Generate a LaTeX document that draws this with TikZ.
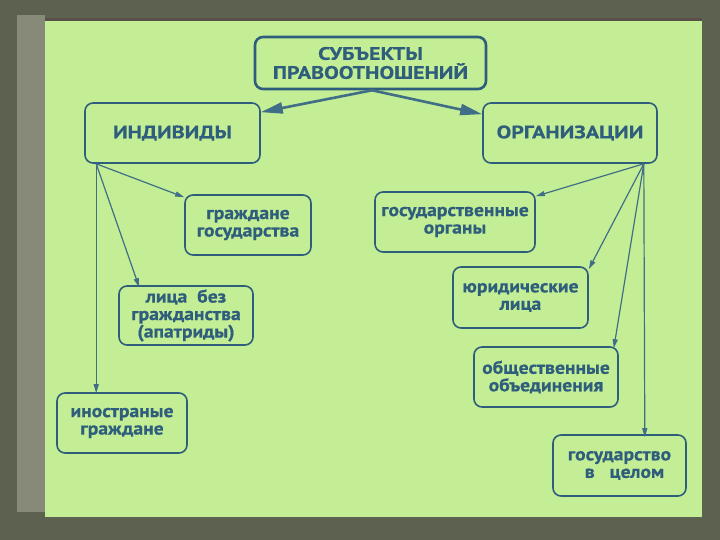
\documentclass[tikz,border=0pt]{standalone}
\usepackage{fontspec}
\setmainfont{PT Sans}
\newfontfamily\capfont{PT Sans}[FakeStretch=1.22, BoldFeatures={FakeBold=0.4}]
\newfontfamily\lowfont{PT Sans}[FakeStretch=1.09, BoldFeatures={FakeBold=0.6}]
\usetikzlibrary{arrows.meta}
\definecolor{frame}{HTML}{5C6150}
\definecolor{strip}{HTML}{878979}
\definecolor{edge}{HTML}{5A5048}
\definecolor{panel}{HTML}{C4EE96}
\definecolor{ink}{HTML}{2E5E7C}
\definecolor{wire}{HTML}{3F6E86}
\tikzset{
  box/.style={draw=ink, line width=1.6pt, rounded corners=8pt, inner sep=0pt, align=center,
    text=ink, font=\lowfont\fontsize{18}{17.5}\selectfont\bfseries},
  capbox/.style={box, font=\capfont\fontsize{18}{19}\selectfont\bfseries},
  bigarr/.style={draw=wire, line width=2.6pt, -{Triangle[length=22pt,width=11pt]}},
  arr/.style={draw=wire, line width=1.2pt, -{Triangle[length=9pt,width=5pt]}}
}
\begin{document}
\begin{tikzpicture}[x=1pt,y=-1pt]
\useasboundingbox (0,0) rectangle (720,540);
\fill[frame] (0,0) rectangle (720,540);
\fill[strip] (17,15) rectangle (45,512);
\fill[edge] (45,18) rectangle (702,21);
\fill[panel] (45,21) rectangle (702,517);

\node[capbox, line width=2.6pt, minimum width=231pt, minimum height=52pt] (title) at (370.5,63) {СУБЪЕКТЫ\\ПРАВООТНОШЕНИЙ};
\node[capbox, minimum width=175pt, minimum height=60pt] (ind) at (172.5,133) {ИНДИВИДЫ};
\node[capbox, minimum width=174pt, minimum height=60pt] (org) at (570,133) {ОРГАНИЗАЦИИ};

\node[box, minimum width=126pt, minimum height=60pt] (grazh) at (248,225) {граждане\\государства};
\node[box, minimum width=134pt, minimum height=59pt] (lica) at (186,315.5) {лица\ \ без\\гражданства\\(апатриды)};
\node[box, minimum width=130pt, minimum height=60pt] (inostr) at (122,423) {иностраные\\граждане};

\node[box, minimum width=160pt, minimum height=60pt] (gosorg) at (455,222) {государственные\\органы};
\node[box, minimum width=135pt, minimum height=61pt] (yur) at (520.5,297.5) {юридические\\лица};
\node[box, minimum width=144pt, minimum height=60pt] (obsh) at (546,377) {общественные\\объединения};
\node[box, minimum width=133pt, minimum height=61pt] (goscel) at (619.5,465.5) {государство\\\ \ в\ \ \ целом};

\draw[bigarr] ([xshift=1.5pt]title.south) -- ([yshift=-10pt]ind.north east);
\draw[bigarr] ([xshift=1.5pt]title.south) -- ([yshift=-12pt]org.north west);

\coordinate (indS) at ([xshift=12pt]ind.south west);
\draw[arr] (indS) -- ([yshift=-3pt]grazh.north west);
\draw[arr] (indS) -- ([xshift=21pt,yshift=-2pt]lica.north west);
\draw[arr] (indS) -- ([xshift=40pt,yshift=-1pt]inostr.north west);

\coordinate (orgS) at ([xshift=-14pt]org.south east);
\draw[arr] (orgS) -- ([yshift=-5pt]gosorg.north east);
\draw[arr] (orgS) -- ([yshift=-3pt]yur.north east);
\draw[arr] (orgS) -- ([xshift=-5pt,yshift=-2pt]obsh.north east);
\draw[arr] (orgS) -- ([xshift=-42pt,yshift=-3pt]goscel.north east);
\end{tikzpicture}
\end{document}
